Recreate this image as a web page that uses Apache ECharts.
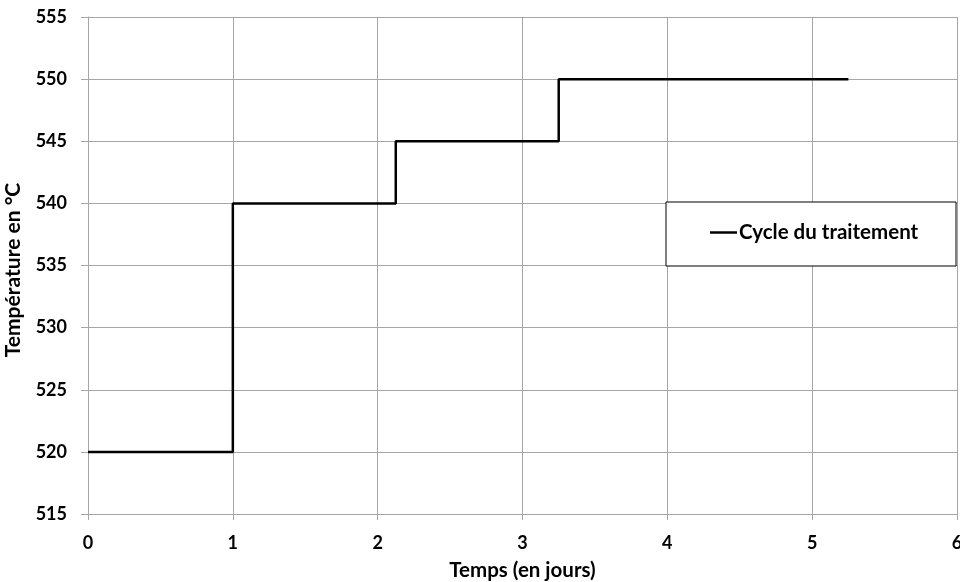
<!DOCTYPE html>
<html><head><meta charset="utf-8">
<script src="https://cdn.jsdelivr.net/npm/echarts@6/dist/echarts.min.js"></script>
<style>html,body{margin:0;padding:0;background:#fff}#c{width:960px;height:582px}</style>
</head><body><div id="c"></div>
<script>
const days = [0, 1, 1, 2.125, 2.125, 3.25, 3.25, 5.25];
const temps = [520, 520, 540, 540, 545, 545, 550, 550];
const seriesName = 'Cycle du traitement';
const xTitle = 'Temps (en jours)';
const yTitle = 'Température en °C';

const FONT = 'Lato';
const chart = echarts.init(document.getElementById('c'), null, {renderer: 'canvas'});
const grid = '#a6a6a6';
chart.setOption({
  animation: false,
  backgroundColor: '#fff',
  grid: {left: 88, right: 3, top: 17, bottom: 68, containLabel: false, outerBoundsMode: 'none'},
  graphic: [{type: 'rect', shape: {x: 666, y: 202, width: 290, height: 64}, style: {fill: '#fff', stroke: '#000', lineWidth: 1}, z: 10}],
  legend: {
    data: [seriesName], left: 710, top: 222, z: 20, padding: 0,
    icon: 'rect', itemWidth: 27, itemHeight: 2.5, itemGap: 0,
    textStyle: {fontFamily: FONT, fontWeight: 'bold', fontSize: 20.5, color: '#000', padding: [0, 0, 0, -3]}
  },
  xAxis: {
    type: 'value', min: 0, max: 6, interval: 1,
    name: xTitle, nameLocation: 'middle', nameGap: 46, nameMoveOverlap: false,
    nameTextStyle: {fontFamily: FONT, fontWeight: 'bold', fontSize: 20.5, color: '#000'},
    axisLine: {show: true, lineStyle: {color: grid}},
    axisTick: {show: true, length: 6, lineStyle: {color: grid}},
    axisLabel: {margin: 20, fontFamily: FONT, fontWeight: 'bold', fontSize: 18, color: '#000'},
    splitLine: {show: true, lineStyle: {color: grid, width: 1}}
  },
  yAxis: {
    type: 'value', min: 515, max: 555, interval: 5,
    name: yTitle, nameLocation: 'middle', nameGap: 64, nameRotate: 90, nameMoveOverlap: false,
    nameTextStyle: {fontFamily: FONT, fontWeight: 'bold', fontSize: 21, color: '#000', padding: [0, 9, 0, 0]},
    axisLine: {show: true, lineStyle: {color: grid}},
    axisTick: {show: true, length: 7, lineStyle: {color: grid}},
    axisLabel: {margin: 21, fontFamily: FONT, fontWeight: 'bold', fontSize: 18, color: '#000'},
    splitLine: {show: true, lineStyle: {color: grid, width: 1}}
  },
  series: [{
    name: seriesName, type: 'line', showSymbol: false, symbol: 'none',
    data: days.map((d, i) => [d, temps[i]]),
    lineStyle: {color: '#000', width: 2.5}, itemStyle: {color: '#000'}
  }]
});
</script></body></html>
